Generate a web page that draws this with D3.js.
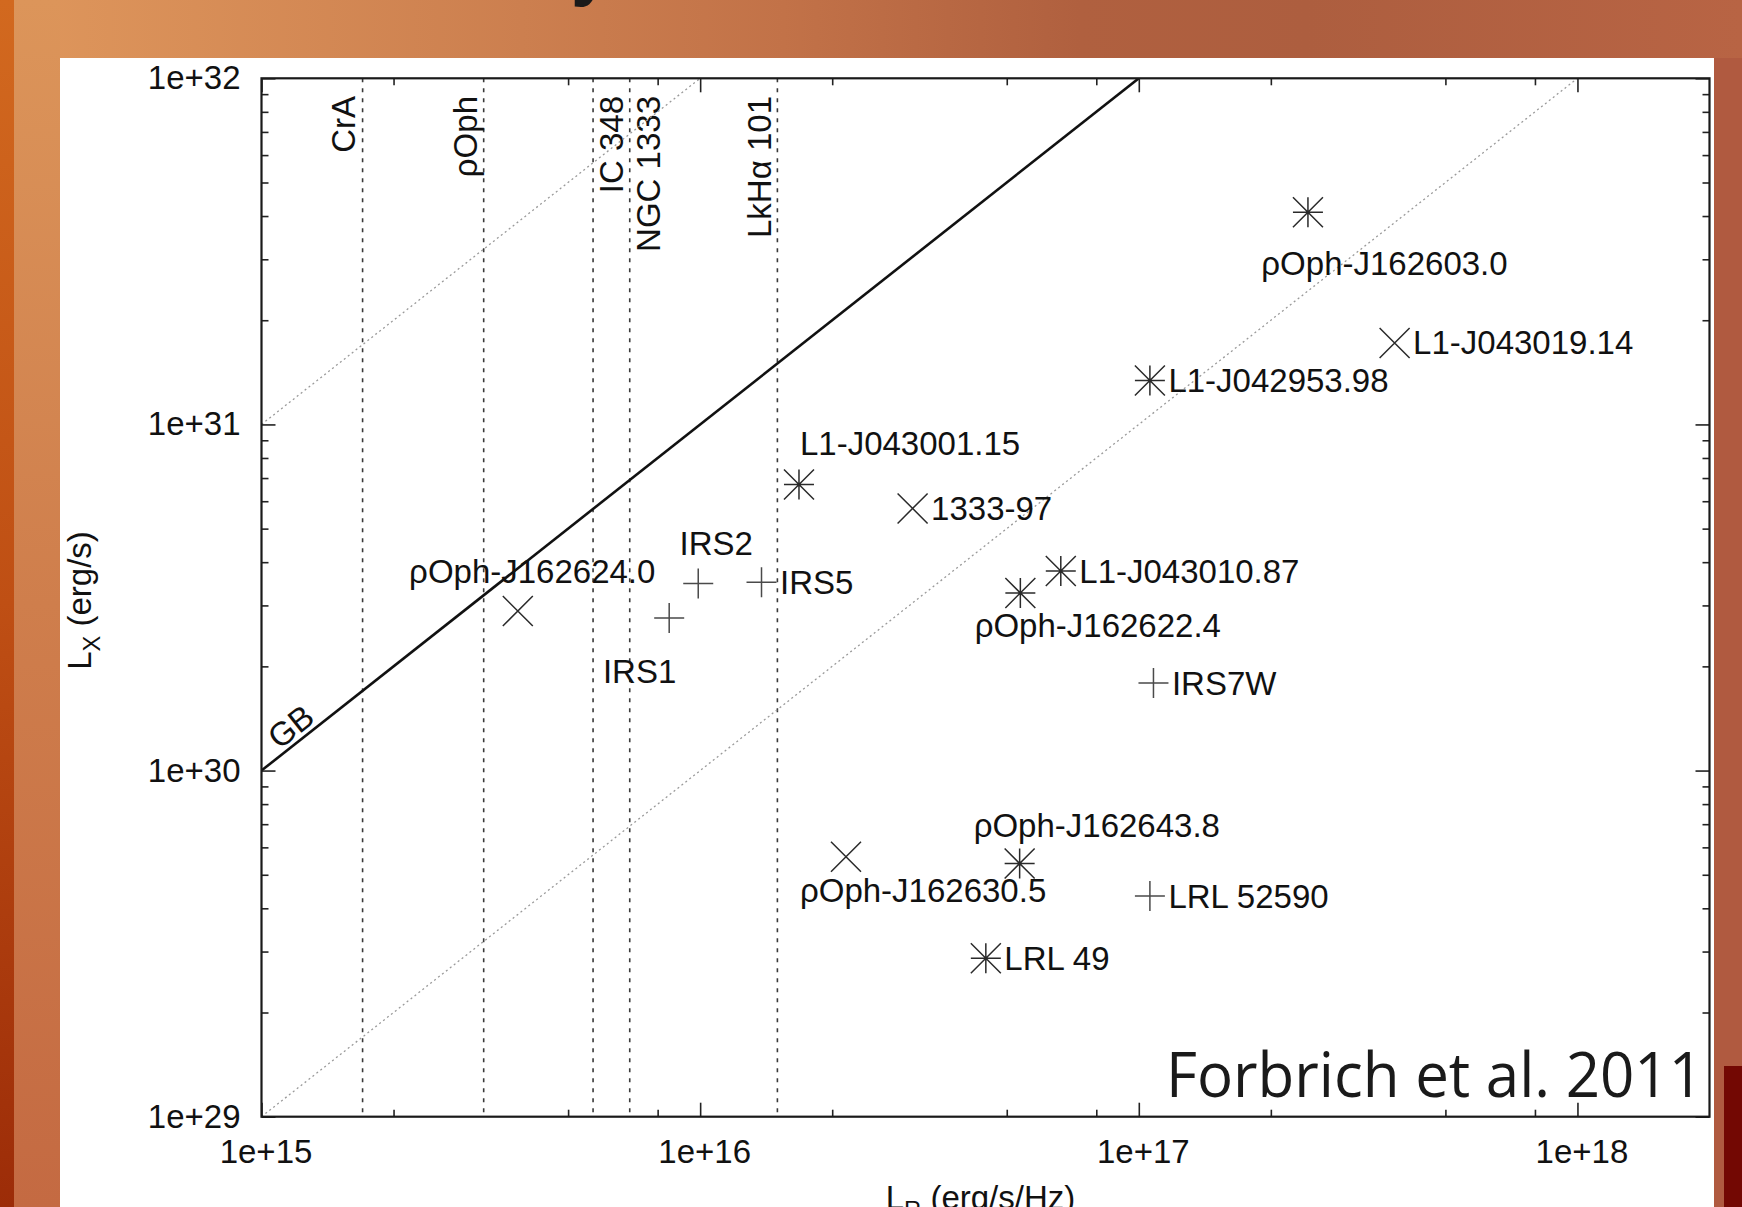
<!DOCTYPE html>
<html><head><meta charset="utf-8">
<script src="https://cdn.jsdelivr.net/npm/d3@7"></script>
<style>
html,body{margin:0;padding:0;width:1742px;height:1207px;overflow:hidden;background:#fff;}
svg{display:block;}
</style></head><body>
<svg id="chart" width="1742" height="1207"></svg>
<script>
// ---------------- data ----------------
const sourceNames  = ["ρOph-J162603.0","L1-J043019.14","L1-J042953.98","L1-J043001.15","1333-97","L1-J043010.87","ρOph-J162622.4","IRS2","IRS5","IRS1","ρOph-J162624.0","IRS7W","ρOph-J162643.8","ρOph-J162630.5","LRL 52590","LRL 49"];
const sourceLR     = [2.43e17, 3.83e17, 1.06e17, 1.68e16, 3.05e16, 6.64e16, 5.37e16, 9.9e15, 1.38e16, 8.5e15, 3.84e15, 1.08e17, 5.35e16, 2.15e16, 1.06e17, 4.48e16];
const sourceLX     = [4.10e31, 1.72e31, 1.34e31, 6.71e30, 5.72e30, 3.77e30, 3.26e30, 3.47e30, 3.50e30, 2.76e30, 2.89e30, 1.79e30, 5.39e29, 5.64e29, 4.34e29, 2.87e29];
const sourceSymbol = ["asterisk","cross","asterisk","asterisk","cross","asterisk","asterisk","plus","plus","plus","cross","plus","asterisk","cross","plus","asterisk"];

const regionNames = ["CrA","ρOph","IC 348","NGC 1333","LkHα 101"];
const regionLR    = [1.70e15, 3.21e15, 5.70e15, 6.91e15, 1.50e16];

const relationRatios = [1e16, 1e15, 1e14];   // L_X / L_R
const relationNames  = ["", "GB", ""];

const xTickValues = [1e15, 1e16, 1e17, 1e18];
const xTickLabels = ["1e+15","1e+16","1e+17","1e+18"];
const yTickValues = [1e29, 1e30, 1e31, 1e32];
const yTickLabels = ["1e+29","1e+30","1e+31","1e+32"];
const xMinorMultiples = [2, 5, 8];
const yMinorMultiples = [2, 3, 4, 5, 6, 7, 8, 9];
const xDomain = [1e15, 2e18];
const yDomain = [1e29, 1e32];

const xTitle = ["L", "R", " (erg/s/Hz)"];
const yTitle = ["L", "X", " (erg/s)"];
const creditText = "Forbrich et al. 2011";

// ---------------- layout (not data) ----------------
const W = 1742, H = 1207;
const plot = {left: 261.5, right: 1709.5, top: 78.3, bottom: 1116.7};
const FONT = "'Liberation Sans', Arial, Helvetica, sans-serif";
const FS = 33;
// label offsets relative to marker [dx, dy(baseline)]
const labelOffsets = [
  [-46.6, 63], [18.5, 11.5], [18.5, 11.5], [1, -29.3], [18.5, 11.5], [18.5, 11.5],
  [-45.7, 44], [-18.7, -28.3], [18.5, 11.5], [-66.3, 65], [-108.7, -28], [18.5, 11.5],
  [-46, -26.6], [-46, 45], [18.5, 11.5], [18.5, 11.5]
];
const regionLabelShift = [-8, -7, 30, 30, -6];

const svg = d3.select("#chart");
const defs = svg.append("defs");

// ---------------- background ----------------
const gTop = defs.append("linearGradient").attr("id","bgTop").attr("x1","0").attr("x2","1").attr("y1","0").attr("y2","0");
[[0,"#df975c"],[0.3,"#cc7f4f"],[0.45,"#c27248"],[0.62,"#b0603f"],[0.75,"#ad5e3f"],[1,"#b86444"]]
  .forEach(([o,c]) => gTop.append("stop").attr("offset", o).attr("stop-color", c));
const gLeft = defs.append("linearGradient").attr("id","bgLeft").attr("x1","0").attr("x2","0").attr("y1","0").attr("y2","1");
[[0,"#dc955a"],[0.5,"#cf7e4c"],[1,"#c46a42"]].forEach(([o,c]) => gLeft.append("stop").attr("offset", o).attr("stop-color", c));
const gStrip = defs.append("linearGradient").attr("id","bgStrip").attr("x1","0").attr("x2","0").attr("y1","0").attr("y2","1");
[[0,"#d2691f"],[0.5,"#bf4f14"],[1,"#9c2c08"]].forEach(([o,c]) => gStrip.append("stop").attr("offset", o).attr("stop-color", c));

svg.append("rect").attr("x",0).attr("y",0).attr("width",W).attr("height",H).attr("fill","url(#bgTop)");
svg.append("rect").attr("x",14).attr("y",0).attr("width",46).attr("height",H).attr("fill","url(#bgLeft)");
svg.append("rect").attr("x",0).attr("y",0).attr("width",14).attr("height",H).attr("fill","url(#bgStrip)");
svg.append("rect").attr("x",1714).attr("y",58).attr("width",28).attr("height",H-58).attr("fill","#b05a40");
svg.append("rect").attr("x",1724).attr("y",1066).attr("width",18).attr("height",H-1066).attr("fill","#730803");
// fragment of the slide title above the figure
svg.append("text").attr("x",571).attr("y",-8).attr("font-family",FONT).attr("font-weight","bold")
  .attr("font-size",72).attr("fill","#1a1a1a").text("y");
svg.append("rect").attr("x",60).attr("y",58).attr("width",1654).attr("height",H-58).attr("fill","#ffffff");

// ---------------- scales ----------------
const x = d3.scaleLog().domain(xDomain).range([plot.left, plot.right]);
const y = d3.scaleLog().domain(yDomain).range([plot.bottom, plot.top]);

defs.append("clipPath").attr("id","plotClip").append("rect")
  .attr("x",plot.left).attr("y",plot.top).attr("width",plot.right-plot.left).attr("height",plot.bottom-plot.top);

const g = svg.append("g");

// ---------------- vertical region lines ----------------
const regG = g.append("g");
regionLR.forEach((v,i) => {
  regG.append("line").attr("x1",x(v)).attr("x2",x(v)).attr("y1",plot.top).attr("y2",plot.bottom)
    .attr("stroke","#3a3a3a").attr("stroke-width",1.6).attr("stroke-dasharray","4,6");
  regG.append("text")
    .attr("transform",`translate(${x(v)+regionLabelShift[i]},96) rotate(-90)`)
    .attr("text-anchor","end").attr("font-family",FONT).attr("font-size",FS).attr("fill","#111")
    .text(regionNames[i]);
});

// ---------------- relation lines ----------------
const relG = g.append("g").attr("clip-path","url(#plotClip)");
relationRatios.forEach((r,i) => {
  const pts = [xDomain[0], xDomain[1]].map(v => [x(v), y(v*r)]);
  const solid = relationNames[i] !== "";
  relG.append("path").attr("d", d3.line()(pts)).attr("fill","none")
    .attr("stroke", solid ? "#111" : "#9a9a9a")
    .attr("stroke-width", solid ? 2.6 : 1.3)
    .attr("stroke-dasharray", solid ? null : "2,3");
  if (solid) {
    const a0 = xDomain[0], a1 = xDomain[0]*10;
    const ang = Math.atan2(y(a1*r)-y(a0*r), x(a1)-x(a0));
    const lx = 1.115e15;
    const px = x(lx), py = y(lx*r);
    const nx = Math.sin(ang), ny = -Math.cos(ang); // upward normal
    const off = 5;
    svg.append("text")
      .attr("transform",`translate(${px+nx*off},${py+ny*off}) rotate(${ang*180/Math.PI})`)
      .attr("font-family",FONT).attr("font-size",FS).attr("fill","#111")
      .text(relationNames[i]);
  }
});

// ---------------- axes ----------------
const xMinor = [], yMinor = [];
for (let d = 15; d < 18; d++) xMinorMultiples.forEach(m => { const v = m*Math.pow(10,d); if (v < xDomain[1]) xMinor.push(v); });
for (let d = 29; d < 32; d++) yMinorMultiples.forEach(m => yMinor.push(m*Math.pow(10,d)));

function styleAxis(sel){
  sel.select(".domain").remove();
  sel.selectAll(".tick line").attr("stroke","#222").attr("stroke-width",1.6);
  sel.selectAll(".tick text").attr("font-family",FONT).attr("font-size",FS).attr("fill","#111");
}
const ax = svg.append("g");
// bottom
ax.append("g").attr("transform",`translate(0,${plot.bottom})`)
  .call(d3.axisBottom(x).tickValues(xTickValues).tickFormat((d,i)=>xTickLabels[i]).tickSize(-14).tickSizeOuter(0).tickPadding(23))
  .call(styleAxis).call(s => s.selectAll(".tick text").attr("dx",4));
ax.append("g").attr("transform",`translate(0,${plot.bottom})`)
  .call(d3.axisBottom(x).tickValues(xMinor).tickFormat("").tickSize(-7).tickSizeOuter(0)).call(styleAxis);
// top
ax.append("g").attr("transform",`translate(0,${plot.top})`)
  .call(d3.axisTop(x).tickValues(xTickValues).tickFormat("").tickSize(-14).tickSizeOuter(0)).call(styleAxis);
ax.append("g").attr("transform",`translate(0,${plot.top})`)
  .call(d3.axisTop(x).tickValues(xMinor).tickFormat("").tickSize(-7).tickSizeOuter(0)).call(styleAxis);
// left
ax.append("g").attr("transform",`translate(${plot.left},0)`)
  .call(d3.axisLeft(y).tickValues(yTickValues).tickFormat((d,i)=>yTickLabels[i]).tickSize(-14).tickSizeOuter(0).tickPadding(21))
  .call(styleAxis);
ax.append("g").attr("transform",`translate(${plot.left},0)`)
  .call(d3.axisLeft(y).tickValues(yMinor).tickFormat("").tickSize(-7).tickSizeOuter(0)).call(styleAxis);
// right
ax.append("g").attr("transform",`translate(${plot.right},0)`)
  .call(d3.axisRight(y).tickValues(yTickValues).tickFormat("").tickSize(-14).tickSizeOuter(0)).call(styleAxis);
ax.append("g").attr("transform",`translate(${plot.right},0)`)
  .call(d3.axisRight(y).tickValues(yMinor).tickFormat("").tickSize(-7).tickSizeOuter(0)).call(styleAxis);
// frame
svg.append("rect").attr("x",plot.left).attr("y",plot.top).attr("width",plot.right-plot.left).attr("height",plot.bottom-plot.top)
  .attr("fill","none").attr("stroke","#1a1a1a").attr("stroke-width",2.2);

// ---------------- axis titles ----------------
const yt = svg.append("text").attr("transform",`translate(91,${(plot.top+plot.bottom)/2+3}) rotate(-90)`)
  .attr("text-anchor","middle").attr("font-family",FONT).attr("font-size",FS).attr("fill","#111");
yt.append("tspan").text(yTitle[0]);
yt.append("tspan").attr("dy",9).attr("font-size",FS*0.72).text(yTitle[1]);
yt.append("tspan").attr("dy",-9).text(yTitle[2]);

const xt = svg.append("text").attr("x",(plot.left+plot.right)/2-5).attr("y",1208.5)
  .attr("text-anchor","middle").attr("font-family",FONT).attr("font-size",FS).attr("fill","#111");
xt.append("tspan").text(xTitle[0]);
xt.append("tspan").attr("dy",9).attr("font-size",FS*0.72).text(xTitle[1]);
xt.append("tspan").attr("dy",-9).text(xTitle[2]);

// ---------------- points ----------------
const R = 15;
const symbolPath = {
  plus: `M${-R},0H${R}M0,${-R}V${R}`,
  cross: `M${-R},${-R}L${R},${R}M${-R},${R}L${R},${-R}`,
  asterisk: `M${-R},0H${R}M0,${-R}V${R}M${-R},${-R}L${R},${R}M${-R},${R}L${R},${-R}`
};
const pts = sourceNames.map((n,i) => ({name:n, lr:sourceLR[i], lx:sourceLX[i], sym:sourceSymbol[i], off:labelOffsets[i]}));
const pg = svg.append("g");
pg.selectAll("path.pt").data(pts).join("path").attr("class","pt")
  .attr("transform", d => `translate(${x(d.lr)},${y(d.lx)})`)
  .attr("d", d => symbolPath[d.sym]).attr("fill","none")
  .attr("stroke", d => d.sym === "plus" ? "#4a4a4a" : "#2a2a2a").attr("stroke-width",1.5);
pg.selectAll("text.lbl").data(pts).join("text").attr("class","lbl")
  .attr("x", d => x(d.lr) + d.off[0]).attr("y", d => y(d.lx) + d.off[1])
  .attr("font-family",FONT).attr("font-size",FS).attr("fill","#111")
  .text(d => d.name);

// ---------------- credit ----------------
svg.append("text").attr("x",1166).attr("y",1097)
  .attr("font-family","'Open Sans','Noto Sans',sans-serif").attr("font-size",63).attr("fill","#1a1a1a")
  .attr("textLength",537).attr("lengthAdjust","spacingAndGlyphs")
  .text(creditText);
</script>
</body></html>
